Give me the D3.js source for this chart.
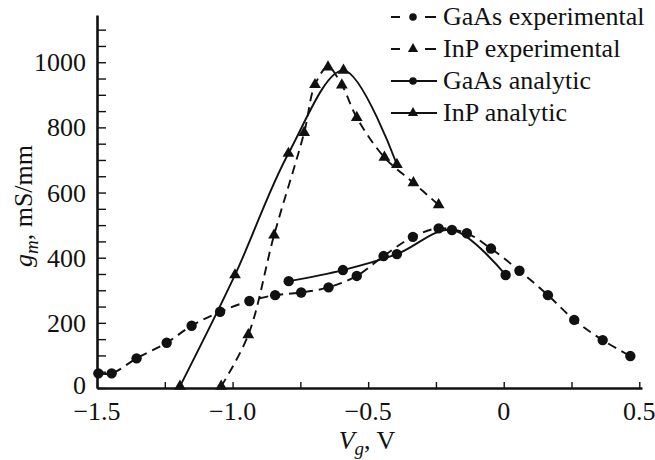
<!DOCTYPE html>
<html>
<head>
<meta charset="utf-8">
<script src="https://cdn.jsdelivr.net/npm/d3@7"></script>
<style>
  body { margin: 0; background: #fff; }
  svg { display: block; }
</style>
</head>
<body>
<script>
// gm vs Vg data
const gaasExpV = [-1.495, -1.446, -1.354, -1.243, -1.151, -1.046, -0.938, -0.843, -0.747, -0.646,
  -0.542, -0.443, -0.335, -0.240, -0.136, -0.047, 0.058, 0.163, 0.260, 0.365, 0.467];
const gaasExpG = [45, 45, 91, 139, 191, 234, 267, 285, 293, 309,
  344, 405, 464, 490, 475, 428, 360, 285, 209, 147, 98];

const inpExpV = [-1.042, -0.942, -0.847, -0.736, -0.696, -0.648, -0.597, -0.542, -0.440, -0.333, -0.240];
const inpExpG = [5, 163, 469, 784, 931, 985, 930, 830, 708, 630, 562];

const gaasAnaV = [-0.793, -0.593, -0.394, -0.191, 0.007];
const gaasAnaG = [328, 362, 411, 485, 347];

const inpAnaV = [-1.194, -0.991, -0.794, -0.591, -0.394];
const inpAnaG = [5, 347, 720, 975, 686];

const xTicks = [-1.5, -1.25, -1.0, -0.75, -0.5, -0.25, 0, 0.25, 0.5];
const xTickLabels = {"-1.5": "\u22121.5", "-1": "\u22121.0", "-0.5": "\u22120.5", "0": "0", "0.5": "0.5"};
const yTicks = d3.range(0, 1101, 50);
const yTickLabels = [0, 200, 400, 600, 800, 1000];

const legendNames = ["GaAs experimental", "InP experimental", "GaAs analytic", "InP analytic"];

const width = 655, height = 460;
const fontFamily = "'Liberation Serif', 'Times New Roman', serif";
const fontSize = 26;

const x = d3.scaleLinear().domain([-1.5, 0.51]).range([97, 642]);
const y = d3.scaleLinear().domain([0, 1145]).range([388, 15]);

const svg = d3.select("body").append("svg")
  .attr("width", width)
  .attr("height", height)
  .style("font-family", fontFamily);

// axes, ticks point inward
const xAxis = svg.append("g")
  .attr("transform", `translate(0,${y(0)})`)
  .call(d3.axisBottom(x).tickValues(xTicks).tickSizeInner(-6).tickSizeOuter(0).tickFormat(""));
const yAxis = svg.append("g")
  .attr("transform", `translate(${x(-1.5)},0)`)
  .call(d3.axisLeft(y).tickValues(yTicks).tickSizeInner(-9).tickSizeOuter(0).tickFormat(""));

[xAxis, yAxis].forEach(a => {
  a.select(".domain").attr("stroke", "#111").attr("stroke-width", 2.6);
  a.selectAll(".tick line").attr("stroke", "#111").attr("stroke-width", 1.4);
});

svg.append("g").selectAll("text")
  .data(xTicks.filter(d => xTickLabels[String(d)] !== undefined))
  .join("text")
  .attr("x", d => x(d))
  .attr("y", 420)
  .attr("text-anchor", "middle")
  .attr("font-size", fontSize)
  .attr("fill", "#111")
  .text(d => xTickLabels[String(d)]);

svg.append("g").selectAll("text")
  .data(yTickLabels)
  .join("text")
  .attr("x", 86)
  .attr("y", d => d === 0 ? y(d) + 6 : y(d) + 9)
  .attr("text-anchor", "end")
  .attr("font-size", fontSize)
  .attr("fill", "#111")
  .text(d => d);

// axis titles
const xTitle = svg.append("text")
  .attr("x", 367)
  .attr("y", 449)
  .attr("text-anchor", "middle")
  .attr("font-size", fontSize)
  .attr("fill", "#111");
xTitle.append("tspan").attr("font-style", "italic").text("V");
xTitle.append("tspan").attr("font-style", "italic").attr("font-size", 19).attr("dy", 6).text("g");
xTitle.append("tspan").attr("dy", -6).text(", V");

const yTitle = svg.append("text")
  .attr("transform", "translate(32,206) rotate(-90)")
  .attr("text-anchor", "middle")
  .attr("font-size", fontSize)
  .attr("fill", "#111");
yTitle.append("tspan").attr("font-style", "italic").text("g");
yTitle.append("tspan").attr("font-style", "italic").attr("font-size", 19).attr("dy", 6).text("m");
yTitle.append("tspan").attr("dy", -6).text(", mS/mm");

// series
const series = [
  { name: legendNames[0], v: gaasExpV, g: gaasExpG, dashed: true, marker: "circle" },
  { name: legendNames[1], v: inpExpV, g: inpExpG, dashed: true, marker: "triangle" },
  { name: legendNames[2], v: gaasAnaV, g: gaasAnaG, dashed: false, marker: "circle" },
  { name: legendNames[3], v: inpAnaV, g: inpAnaG, dashed: false, marker: "triangle" }
];

const line = d3.line()
  .x(d => x(d[0]))
  .y(d => y(d[1]))
  .curve(d3.curveCatmullRom.alpha(0.5));

const circleSym = d3.symbol().type(d3.symbolCircle).size(85);
const triSym = d3.symbol().type(d3.symbolTriangle).size(60);

series.forEach(s => {
  const pts = s.v.map((v, i) => [v, s.g[i]]);
  svg.append("path")
    .datum(pts)
    .attr("fill", "none")
    .attr("stroke", "#111")
    .attr("stroke-width", 1.9)
    .attr("stroke-dasharray", s.dashed ? "9,6" : null)
    .attr("d", line);

  svg.append("g").selectAll("path")
    .data(pts)
    .join("path")
    .attr("transform", d => `translate(${x(d[0])},${y(d[1])})`)
    .attr("d", s.marker === "circle" ? circleSym() : triSym())
    .attr("fill", "#111");
});

// legend
const legend = svg.append("g");
series.forEach((s, i) => {
  const cy = 17 + i * 32;
  const row = legend.append("g").attr("transform", `translate(0,${cy})`);
  if (s.dashed) {
    row.append("line").attr("x1", 391).attr("x2", 400).attr("stroke", "#111").attr("stroke-width", 2);
    row.append("line").attr("x1", 425).attr("x2", 436).attr("stroke", "#111").attr("stroke-width", 2);
  } else {
    row.append("line").attr("x1", 391).attr("x2", 437).attr("stroke", "#111").attr("stroke-width", 2);
  }
  row.append("path")
    .attr("transform", "translate(413,0)")
    .attr("d", d3.symbol().type(s.marker === "circle" ? d3.symbolCircle : d3.symbolTriangle).size(45)())
    .attr("fill", "#111");
  row.append("text")
    .attr("x", 443)
    .attr("y", 8)
    .attr("font-size", fontSize)
    .attr("fill", "#111")
    .text(s.name);
});
</script>
</body>
</html>
